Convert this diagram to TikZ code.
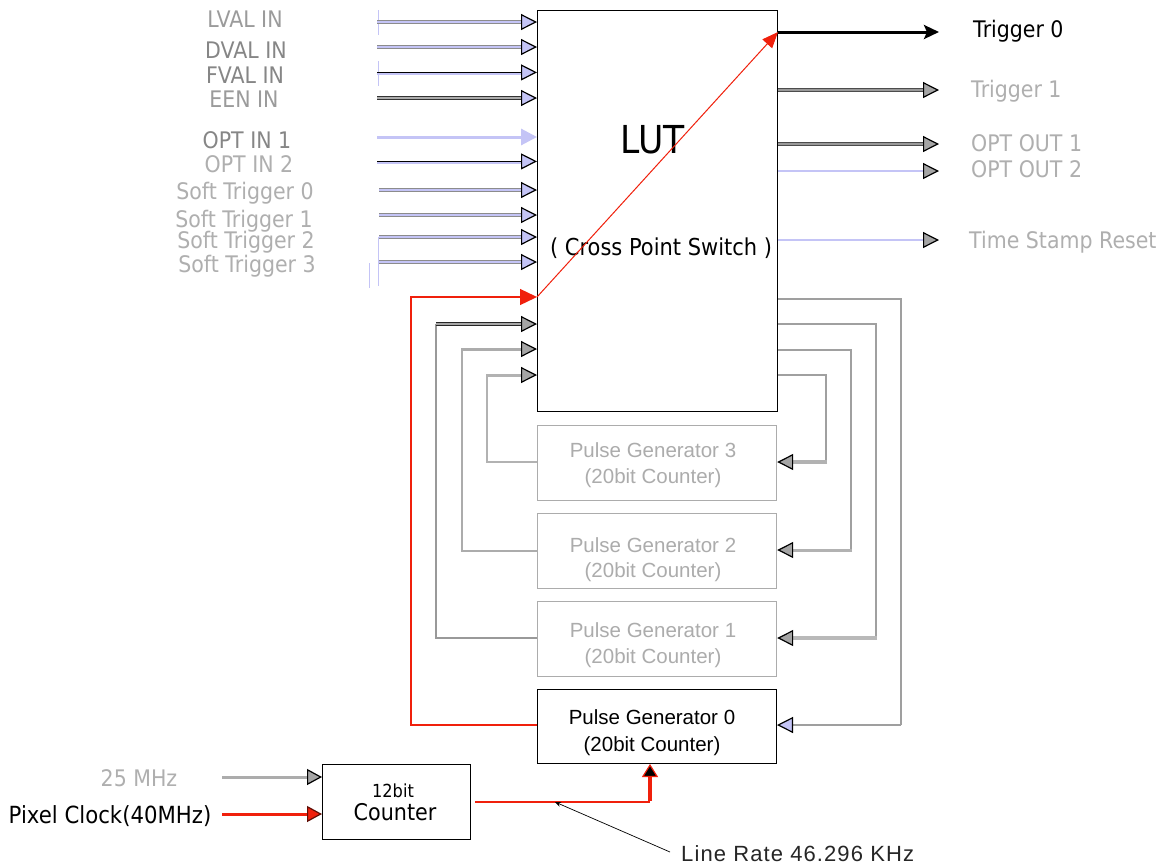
\documentclass[tikz,border=0pt]{standalone}
\usepackage{fontspec}
\setmainfont[FakeStretch=0.9]{DejaVu Sans}
\newfontfamily\arialf{Liberation Sans}
\newfontfamily\arialls[LetterSpace=5]{Liberation Sans}
\usetikzlibrary{arrows.meta}
\definecolor{lav}{RGB}{196,196,246}
\definecolor{labg}{RGB}{155,155,155}
\definecolor{labl}{RGB}{175,175,175}
\definecolor{pgg}{RGB}{172,172,172}
\definecolor{lng}{RGB}{160,160,160}
\definecolor{tipg}{RGB}{165,165,165}
\definecolor{myred}{RGB}{240,32,12}
\tikzset{
  tipL/.tip={Triangle[length=16pt,width=16pt,fill=lav,color=black,line width=1.2pt]},
  tipG/.tip={Triangle[length=16pt,width=16pt,fill=tipg,color=black,line width=1.2pt]},
  tipO/.tip={Triangle[length=16pt,width=16pt,fill=lav,color=lav]},
  tipR/.tip={Triangle[length=17pt,width=16pt,fill=myred,color=myred]},
  lab/.style={font=\fontsize{22.8}{26}\selectfont, text=labg, inner sep=0pt},
  pgtext/.style={font=\arialf\fontsize{20.5}{24}\selectfont, text=pgg, inner sep=0pt, anchor=base},
  inD/.style={draw=gray!90, double=lav, double distance=1.4pt, line width=1pt, -tipL},
  inK/.style={draw=black, line width=1.1pt, -tipL},
  outD/.style={draw=black!70, double=gray!80, double distance=1.4pt, line width=1.1pt, -tipG},
  outL/.style={draw=lav, line width=2.4pt, -tipG},
  pgbox/.style={draw=pgg, line width=1.2pt, minimum width=239pt, inner sep=0pt, anchor=north west},
  loopthin/.style={draw=lng, line width=1.5pt},
  loopthick/.style={draw=lng, line width=3.5pt, -tipG},
  faintmark/.style={draw=lav, line width=0.8pt}
}
\begin{document}
\begin{tikzpicture}[x=1pt,y=-1pt]
\useasboundingbox[fill=white] (0,0) rectangle (1169,865);

% LUT
\node[draw, line width=1pt, minimum width=240pt, minimum height=401pt, inner sep=0pt, anchor=north west] (LUT) at (537,10) {};
\node[font=\fontsize{38.5}{42}\selectfont, inner sep=0pt, anchor=base] (luttxt) at (653,153) {LUT};
\node[font=\fontsize{23.3}{26}\selectfont, inner sep=0pt, anchor=base] (cps) at (661,255) {( Cross Point Switch )};

% pulse generators
\node[pgbox, minimum height=75pt] (PG3) at (537,425) {};
\node[pgbox, minimum height=75pt] (PG2) at (537,513) {};
\node[pgbox, minimum height=75pt] (PG1) at (537,601) {};
\node[pgbox, draw=black, line width=1pt, minimum height=74pt] (PG0) at (537,689) {};
\node[pgtext] (pg3a) at (653,457) {Pulse Generator 3};
\node[pgtext] (pg3b) at (653,483) {(20bit Counter)};
\node[pgtext] (pg2a) at (653,552) {Pulse Generator 2};
\node[pgtext] (pg2b) at (653,577) {(20bit Counter)};
\node[pgtext] (pg1a) at (653,637) {Pulse Generator 1};
\node[pgtext] (pg1b) at (653,663) {(20bit Counter)};
\node[pgtext, text=black] (pg0a) at (652,724) {Pulse Generator 0};
\node[pgtext, text=black] (pg0b) at (652,751) {(20bit Counter)};

% counter
\node[draw, line width=1pt, minimum width=148pt, minimum height=75pt, inner sep=0pt, anchor=north west] (CNT) at (322,764) {};
\node[font=\fontsize{18}{20}\selectfont, inner sep=0pt, anchor=base] (c12) at (393,797) {12bit};
\node[font=\fontsize{23}{26}\selectfont, inner sep=0pt, anchor=base] (cct) at (395,820) {Counter};

% input labels
\node[lab, anchor=base] (l1) at (245,27) {LVAL IN};
\node[lab, anchor=base, text=gray!95] (l2) at (246,58) {DVAL IN};
\node[lab, anchor=base, text=gray!95] (l3) at (245,83) {FVAL IN};
\node[lab, anchor=base] (l4) at (244,107) {EEN IN};
\node[lab, anchor=base, text=gray!95] (l5) at (247,148) {OPT IN 1};
\node[lab, anchor=base, text=labl] (l6) at (249,172) {OPT IN 2};
\node[lab, anchor=base, text=labl] (l7) at (245,199) {Soft Trigger 0};
\node[lab, anchor=base, text=labl] (l8) at (244,227) {Soft Trigger 1};
\node[lab, anchor=base, text=labl] (l9) at (246,248) {Soft Trigger 2};
\node[lab, anchor=base, text=labl] (l10) at (247,272) {Soft Trigger 3};

% input start points
\coordinate (s1) at (377,22);
\coordinate (s2) at (377,47);
\coordinate (s3) at (377,73);
\coordinate (s4) at (377,98);
\coordinate (s5) at (377,137);
\coordinate (s6) at (377,162);
\coordinate (s7) at (379,190);
\coordinate (s8) at (379,215);
\coordinate (s9) at (379,237);
\coordinate (s10) at (379,262);

% faint marks
\draw[faintmark] (378,10) -- (378,35);
\draw[faintmark] (378,61) -- (378,86);
\draw[faintmark] (378,237) -- (378,286);
\draw[faintmark] (369,263) -- (369,288);

\draw[inD] (s1) -- (s1 -| LUT.west);
\draw[inD] (s2) -- (s2 -| LUT.west);
\draw[draw=lav, line width=2.2pt] ([yshift=-1pt]s3) -- ([yshift=-1pt,xshift=-14pt]s3 -| LUT.west);
\draw[inK] ([yshift=0.6pt]s3) -- ([yshift=0.6pt]s3 -| LUT.west);
\draw[draw=black!80, double=gray!65, double distance=1.3pt, line width=1.1pt, -tipL] (s4) -- (s4 -| LUT.west);
\draw[draw=lav, line width=3pt, -tipO] (s5) -- (s5 -| LUT.west);
\draw[draw=lav, line width=2.2pt] ([yshift=-1pt]s6) -- ([yshift=-1pt,xshift=-14pt]s6 -| LUT.west);
\draw[inK] ([yshift=0.6pt]s6) -- ([yshift=0.6pt]s6 -| LUT.west);
\draw[inD] (s7) -- (s7 -| LUT.west);
\draw[inD] (s8) -- (s8 -| LUT.west);
\draw[inD] (s9) -- (s9 -| LUT.west);
\draw[inD] (s10) -- (s10 -| LUT.west);

% outputs
\coordinate (o0) at (939,32);
\coordinate (o1) at (939,90);
\coordinate (o2) at (939,144);
\coordinate (o3) at (939,171);
\coordinate (o4) at (939,240);
\draw[line width=3pt, -{Stealth[length=15pt,width=14pt,inset=3pt]}] (o0 -| LUT.east) -- (o0);
\draw[outD] (o1 -| LUT.east) -- (o1);
\draw[outD] (o2 -| LUT.east) -- (o2);
\draw[outL] (o3 -| LUT.east) -- (o3);
\draw[outL] (o4 -| LUT.east) -- (o4);
\node[lab, anchor=base west, text=black] (t0) at (973,37) {Trigger 0};
\node[lab, anchor=base west, text=labl] (t1) at (971,97) {Trigger 1};
\node[lab, anchor=base west, text=labl] (t2) at (971,151) {OPT OUT 1};
\node[lab, anchor=base west, text=labl] (t3) at (971,177) {OPT OUT 2};
\node[lab, anchor=base west, text=labl] (t4) at (969,248) {Time Stamp Reset};

% right feedback loops
\draw[draw=gray!75, line width=1.2pt] (LUT.east |- 0,299) -- (901,299) -- (901,725);
\draw[draw=gray!75, line width=1.2pt, -tipL] (901,725) -- (PG0.east |- 0,725);
\draw[loopthin] (LUT.east |- 0,324) -- (876,324) -- (876,638);
\draw[loopthick, draw=gray!55] (877,638) -- (PG1.east |- 0,638);
\draw[loopthin] (LUT.east |- 0,350) -- (851,350) -- (851,550);
\draw[loopthick, line width=3pt, draw=gray!60] (852,550) -- (PG2.east |- 0,550);
\draw[loopthin] (LUT.east |- 0,375) -- (826,375) -- (826,462);
\draw[loopthick, draw=gray!60] (827,462) -- (PG3.east |- 0,462);

% left feedback loops
\draw[loopthin, draw=gray!80] (PG1.west |- 0,638) -- (436,638) -- (436,324);
\draw[draw=black!85, double=gray!70, double distance=1.2pt, line width=1pt, -tipG] (436,324) -- (LUT.west |- 0,324);
\draw[loopthin, line width=2pt, draw=gray!65] (PG2.west |- 0,551) -- (462,551) -- (462,349);
\draw[draw=gray!65, line width=3pt, -tipG] (461,349) -- (LUT.west |- 0,349);
\draw[loopthin, line width=2pt, draw=gray!60] (PG3.west |- 0,462) -- (487,462) -- (487,375);
\draw[draw=gray!60, line width=3pt, -tipG] (486,375) -- (LUT.west |- 0,375);

% red path
\coordinate (rin) at (537,297);
\draw[myred, line width=1.3pt, -tipR] (PG0.west |- 0,725) -- (411,725) -- (411,297) -- (rin);
\draw[myred, line width=1pt, -{Triangle[length=16pt,width=13pt]}] (rin) -- (o0 -| LUT.east);

% clock inputs
\node[lab, anchor=base, text=labl] (f25) at (139,786) {25 MHz};
\node[lab, anchor=base, text=black, font=\fontsize{23.6}{26}\selectfont] (pix) at (110,823) {Pixel Clock(40MHz)};
\draw[draw=gray!65, line width=3pt, -{Triangle[length=15pt,width=16pt,fill=tipg,color=black,line width=1.2pt]}] (222,777) -- (CNT.west |- 0,777);
\draw[myred, line width=3pt, -{Triangle[length=15pt,width=16pt,fill=myred,color=black!60!myred,line width=1.2pt]}] (222,814) -- (CNT.west |- 0,814);

% counter to PG0
\coordinate (bend) at (650,802);
\draw[myred, line width=2pt] (CNT.east |- 0,802) ++(4,0) -- (bend);
\draw[myred, line width=3.2pt, -{Triangle[length=13pt,width=16pt,fill=black,color=myred,line width=1.2pt]}] ([yshift=1pt]bend) -- (bend |- PG0.south);

% annotation
\coordinate (ann) at (555,802);
\draw[black, line width=0.7pt, -{Stealth[length=6pt,width=5pt]}] (670,852) -- (ann);
\node[font=\arialls\fontsize{22}{26}\selectfont, inner sep=0pt, anchor=base west, text=black!85] (lr) at (681,861) {Line Rate 46.296 KHz};
\end{tikzpicture}
\end{document}
